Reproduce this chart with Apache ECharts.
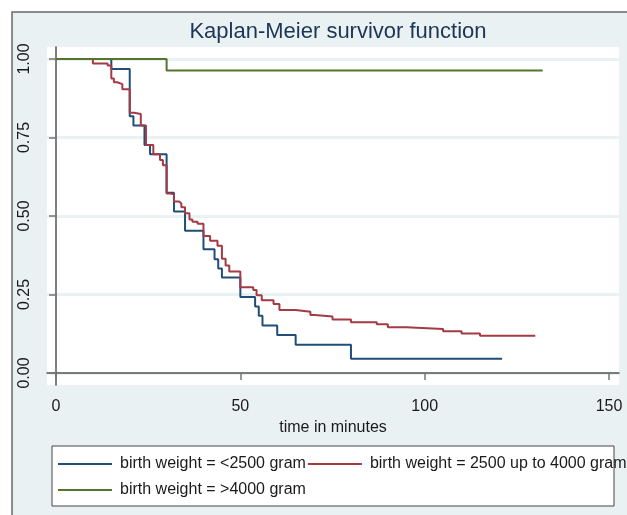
<!DOCTYPE html>
<html>
<head>
<meta charset="utf-8">
<script src="https://cdn.jsdelivr.net/npm/echarts@6/dist/echarts.min.js"></script>
<style>
  html, body { margin: 0; padding: 0; background: #fff; }
  #chart { width: 627px; height: 515px; }
</style>
</head>
<body>
<div id="chart"></div>
<script>
// Kaplan-Meier step data (time in minutes, survival)
const lowTimes  = [0, 15, 20, 21, 24, 25.5, 30, 32, 35, 40, 43, 44, 45, 50, 54, 55, 56, 60, 65, 80, 121];
const lowSurv   = [1, 0.968, 0.818, 0.788, 0.726, 0.697, 0.574, 0.514, 0.453, 0.394, 0.362, 0.333, 0.304, 0.242, 0.212, 0.182, 0.151, 0.121, 0.09, 0.045, 0.045];

const midTimes  = [0, 10, 14, 15, 15.7, 16.6, 18, 20, 21.2, 23, 24.4, 26.4, 28.2, 29, 30, 30.7, 32, 33.4, 34, 35, 36.2, 37, 38.4, 40, 41.8, 43.8, 45, 46, 47, 50, 53.5, 54.4, 55.8, 59, 60.6, 65, 69, 70.2, 75, 80, 87, 90, 95, 105, 110, 115, 130];
const midSurv   = [1, 0.986, 0.979, 0.938, 0.926, 0.92, 0.904, 0.829, 0.825, 0.788, 0.726, 0.697, 0.678, 0.662, 0.572, 0.569, 0.546, 0.54, 0.528, 0.509, 0.489, 0.482, 0.475, 0.436, 0.421, 0.405, 0.364, 0.342, 0.323, 0.273, 0.264, 0.248, 0.232, 0.22, 0.201, 0.195, 0.185, 0.18, 0.17, 0.162, 0.155, 0.146, 0.14, 0.133, 0.126, 0.119, 0.119];

const highTimes = [0, 30, 132];
const highSurv  = [1, 0.963, 0.963];

const seriesNames = ['birth weight = <2500 gram', 'birth weight = 2500 up to 4000 gram', 'birth weight = >4000 gram'];
const xTicks = [0, 50, 100, 150];
const yTicks = [0, 0.25, 0.5, 0.75, 1];

const zip = (a, b) => a.map((t, i) => [t, b[i]]);

const chart = echarts.init(document.getElementById('chart'));
const font = 'Liberation Sans, Arial, sans-serif';
const bg = '#e9f1f3';

const kmSeries = (name, data, color) => ({
  type: 'line',
  name: name,
  step: 'end',
  symbol: 'none',
  data: data,
  lineStyle: { color: color, width: 2 },
  itemStyle: { color: color },
  z: 3
});

const legendText = { fontFamily: font, fontSize: 16, color: '#1a1a1a', padding: [0, 0, 0, 3] };

chart.setOption({
  backgroundColor: '#fff',
  animation: false,
  textStyle: { fontFamily: font },
  graphic: [{
    type: 'rect',
    z: -10,
    shape: { x: 12, y: 12, width: 700, height: 600 },
    style: { fill: bg, stroke: '#6a6a6a', lineWidth: 1.5 }
  }, {
    type: 'rect',
    z: -5,
    shape: { x: 52, y: 446, width: 562, height: 60 },
    style: { fill: '#fff', stroke: '#444', lineWidth: 1 }
  }],
  title: {
    text: 'Kaplan-Meier survivor function',
    left: 333,
    top: 16,
    textAlign: 'center',
    textStyle: { fontFamily: font, fontSize: 22, fontWeight: 'normal', color: '#1c3555' }
  },
  grid: {
    left: 47, top: 47, width: 572, height: 338,
    show: true, backgroundColor: '#fff', borderWidth: 0
  },
  xAxis: {
    type: 'value',
    min: -2.44, max: 152.7,
    name: 'time in minutes',
    nameLocation: 'middle',
    nameGap: 33,
    nameTextStyle: { fontFamily: font, fontSize: 16, color: '#1a1a1a' },
    axisLine: { lineStyle: { color: '#555', width: 1.5 } },
    axisTick: { show: true, length: 7, customValues: xTicks, lineStyle: { color: '#777', width: 1.5 } },
    axisLabel: { customValues: xTicks, margin: 14, fontSize: 16, color: '#1a1a1a', fontFamily: font },
    splitLine: { show: false }
  },
  yAxis: {
    type: 'value',
    min: -0.0382, max: 1.0382,
    axisLine: { show: true, lineStyle: { color: '#555', width: 1.5 } },
    axisTick: { show: true, length: 7, customValues: yTicks, lineStyle: { color: '#777', width: 1.5 } },
    axisLabel: {
      customValues: yTicks, rotate: 90, margin: 14, fontSize: 16, color: '#1a1a1a', fontFamily: font,
      formatter: v => v.toFixed(2)
    },
    splitLine: { show: true, lineStyle: { color: bg, width: 3 } }
  },
  legend: [{
    data: [seriesNames[0], seriesNames[1]],
    left: 58, top: 456, padding: 0,
    icon: 'rect',
    itemWidth: 54, itemHeight: 2, itemGap: 2,
    textStyle: legendText
  }, {
    data: [seriesNames[2]],
    left: 58, top: 482, padding: 0,
    icon: 'rect',
    itemWidth: 54, itemHeight: 2,
    textStyle: legendText
  }],
  series: [
    kmSeries(seriesNames[0], zip(lowTimes, lowSurv), '#1f4e79'),
    kmSeries(seriesNames[1], zip(midTimes, midSurv), '#a33a44'),
    kmSeries(seriesNames[2], zip(highTimes, highSurv), '#55752f')
  ]
});
</script>
</body>
</html>
